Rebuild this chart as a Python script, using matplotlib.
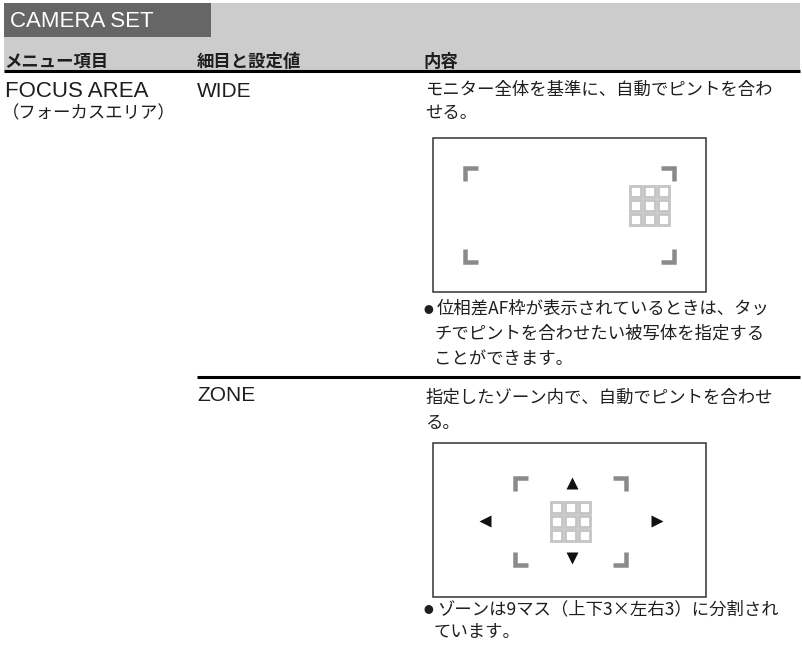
import matplotlib
matplotlib.use("Agg")
import matplotlib.pyplot as plt
from matplotlib.patches import Rectangle

# page content
section_title = "CAMERA SET"
column_headers = ["メニュー項目", "細目と設定値", "内容"]
menu_item = ["FOCUS AREA", "（フォーカスエリア）"]
settings = ["WIDE", "ZONE"]
descriptions = [
    ["モニター全体を基準に、自動でピントを合わ", "せる。"],
    ["指定したゾーン内で、自動でピントを合わせ", "る。"],
]
notes = [
    ["位相差AF枠が表示されているときは、タッ", "チでピントを合わせたい被写体を指定する", "ことができます。"],
    ["ゾーンは9マス（上下3×左右3）に分割され", "ています。"],
]
arrow_markers = ["^", "v", "<", ">"]

JP = ["Noto Sans CJK JP", "DejaVu Sans"]
LAT = ["Liberation Sans", "DejaVu Sans"]
INK = "#1e1e1e"
JP_SIZE = 12.5
DY = 2  # nudge for CJK vertical centring

fig = plt.figure(figsize=(8.02, 6.55), dpi=100)
ax = fig.add_axes([0, 0, 1, 1])
ax.set_xlim(0, 802)
ax.set_ylim(655, 0)
ax.axis("off")

# header band
ax.add_patch(Rectangle((4, 3), 796, 67, facecolor="#cccccc", edgecolor="none"))
ax.add_patch(Rectangle((4, 3), 207, 34, facecolor="#666666", edgecolor="none"))
ax.text(10, 27, section_title, family=LAT, fontsize=16, color="white", va="baseline")

col_x = [4, 197, 423]
for x, h in zip(col_x, column_headers):
    ax.text(x, 60 + DY, h, family=JP, fontsize=JP_SIZE, fontweight="bold", color=INK, va="center")
ax.plot([4, 800], [71, 71], color="black", lw=2.2, solid_capstyle="butt")

# menu item
ax.text(5, 97, menu_item[0], family=LAT, fontsize=16, color=INK, va="baseline")
ax.text(2, 111 + DY, menu_item[1], family=JP, fontsize=JP_SIZE, color=INK, va="center")


def bracket(cx, cy, sx, sy, L=15, t=4.5):
    h = t / 2
    xs = [cx + sx * L, cx + sx * h, cx + sx * h]
    ys = [cy + sy * h, cy + sy * h, cy + sy * L]
    ax.plot(xs, ys, color="#8a8a8a", lw=t * 0.72, solid_capstyle="butt", solid_joinstyle="miter")


def grid(x0, y0, c=14):
    for i in range(3):
        for j in range(3):
            ax.add_patch(Rectangle((x0 + i * c + 1.5, y0 + j * c + 1.5), c - 3, c - 3,
                                   facecolor="white", edgecolor="#c4c4c4", lw=2.0))


def frame_box(top, bottom):
    ax.add_patch(Rectangle((433, top), 273, bottom - top, facecolor="white",
                           edgecolor="#333333", lw=1.1))


def text_lines(x, y0, lines, step=24, bullet=False):
    for k, line in enumerate(lines):
        y = y0 + k * step + DY
        if bullet and k == 0:
            ax.text(423, y + 1, "●", family=JP, fontsize=7, color=INK, va="center")
            ax.text(x + 3, y, line, family=JP, fontsize=JP_SIZE, color=INK, va="center")
        else:
            ax.text(x, y, line, family=JP, fontsize=JP_SIZE, color=INK, va="center")


# row 1: WIDE
ax.text(197, 97, settings[0], family=LAT, fontsize=15, color=INK, va="baseline")
text_lines(425, 88, descriptions[0], step=23)
frame_box(138, 292)
for cx, cy, sx, sy in [(463, 166, 1, 1), (676, 166, -1, 1), (463, 264, 1, -1), (676, 264, -1, -1)]:
    bracket(cx, cy, sx, sy)
grid(628, 184)
text_lines(434, 307, notes[0], step=25, bullet=True)

ax.plot([197, 800], [377, 377], color="black", lw=2.2, solid_capstyle="butt")

# row 2: ZONE
ax.text(197, 401, settings[1], family=LAT, fontsize=15, color=INK, va="baseline")
text_lines(425, 396, descriptions[1], step=25)
frame_box(443, 597)
for cx, cy, sx, sy in [(513, 476, 1, 1), (628, 476, -1, 1), (513, 567, 1, -1), (628, 567, -1, -1)]:
    bracket(cx, cy, sx, sy)
grid(549, 500)
arrow_pos = [(572, 483), (572, 558), (485, 521), (657, 521)]
for m, (x, y) in zip(arrow_markers, arrow_pos):
    ax.plot([x], [y], marker=m, ms=8.5, color="#111111", mec="none", ls="none")
text_lines(434, 607, notes[1], step=23, bullet=True)

fig.savefig("out.png", dpi=100)
